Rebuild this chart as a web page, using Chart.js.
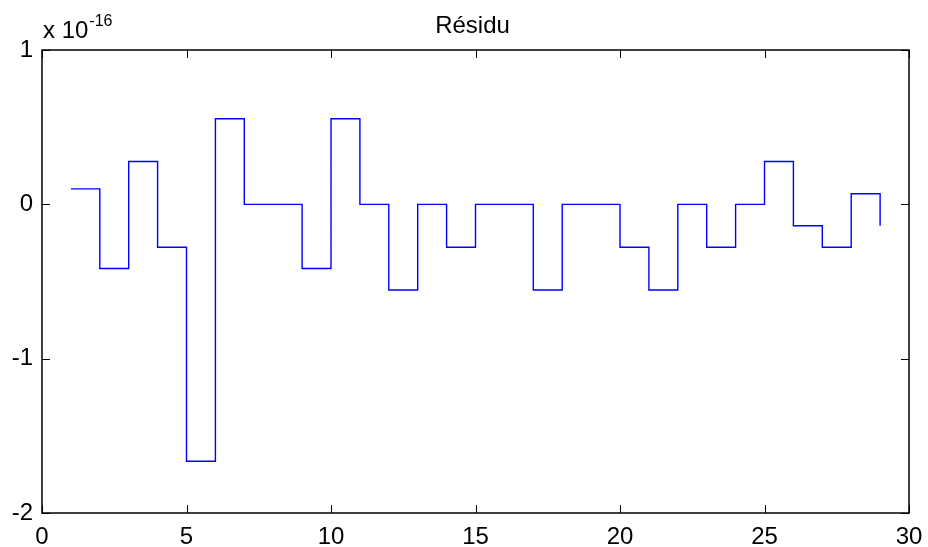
<!DOCTYPE html>
<html>
<head>
<meta charset="utf-8">
<title>Résidu</title>
<script src="https://cdn.jsdelivr.net/npm/chart.js@4"></script>
<style>
    body { margin: 0; background: #fff; }
    #wrap { width: 928px; height: 547px; position: relative; }
</style>
</head>
<body>
<div id="wrap"><canvas id="residuChart"></canvas></div>
<script>
// stairs data, values in units of 1e-16
const xs = [1, 2, 3, 4, 5, 6, 7, 8, 9, 10, 11, 12, 13, 14, 15, 16, 17, 18, 19, 20, 21, 22, 23, 24, 25, 26, 27, 28, 29];
const residu = [0.1, -0.416, 0.278, -0.278, -1.665, 0.555, 0, 0, -0.416, 0.555, 0, -0.555, 0, -0.278, 0, 0, -0.555, 0, 0, -0.278, -0.555, 0, -0.278, 0, 0.278, -0.139, -0.278, 0.069, -0.139];
const xTicks = [0, 5, 10, 15, 20, 25, 30];
const yTicks = [-2, -1, 0, 1];

const FONT = '"Liberation Sans", Arial, sans-serif';

// box around the axes, inward ticks, title and exponent label (matlab style)
const matlabAxes = {
    id: 'matlabAxes',
    afterDraw(chart) {
        const ctx = chart.ctx;
        const a = chart.chartArea;
        const xs_ = chart.scales.x;
        const ys_ = chart.scales.y;
        const tl = 8;
        ctx.save();
        ctx.strokeStyle = '#000';
        ctx.lineWidth = 1.5;
        ctx.strokeRect(a.left, a.top, a.right - a.left, a.bottom - a.top);
        ctx.lineWidth = 1;
        ctx.beginPath();
        xTicks.forEach(v => {
            const px = Math.round(xs_.getPixelForValue(v)) + 0.5;
            ctx.moveTo(px, a.bottom); ctx.lineTo(px, a.bottom - tl);
            ctx.moveTo(px, a.top); ctx.lineTo(px, a.top + tl);
        });
        yTicks.forEach(v => {
            const py = Math.round(ys_.getPixelForValue(v)) + 0.5;
            ctx.moveTo(a.left, py); ctx.lineTo(a.left + tl, py);
            ctx.moveTo(a.right, py); ctx.lineTo(a.right - tl, py);
        });
        ctx.stroke();

        ctx.fillStyle = '#000';
        ctx.textBaseline = 'alphabetic';
        ctx.textAlign = 'center';
        ctx.font = '24px ' + FONT;
        ctx.fillText('Résidu', (a.left + a.right) / 2 - 3, 33);

        ctx.textAlign = 'left';
        ctx.font = '24px ' + FONT;
        ctx.fillText('x 10', a.left + 1, 38);
        const w = ctx.measureText('x 10').width;
        ctx.font = '16px ' + FONT;
        ctx.fillText('-16', a.left + 1 + w + 1, 26);
        ctx.restore();
    }
};

const ctx = document.getElementById('residuChart').getContext('2d');
const residuChart = new Chart(ctx, {
    type: 'line',
    data: {
        datasets: [{
            label: 'Résidu',
            data: xs.map((x, i) => ({ x: x, y: residu[i] })),
            stepped: 'before',
            borderColor: '#0000ff',
            borderWidth: 1.4,
            pointRadius: 0,
            fill: false
        }]
    },
    options: {
        responsive: true,
        maintainAspectRatio: false,
        animation: false,
        layout: { padding: { left: 0, right: 19, top: 50, bottom: 0 } },
        plugins: {
            legend: { display: false },
            tooltip: { enabled: false },
            title: { display: false }
        },
        scales: {
            x: {
                type: 'linear',
                min: 0,
                max: 30,
                afterBuildTicks: scale => { scale.ticks = xTicks.map(v => ({ value: v })); },
                afterFit: scale => {
                    scale.height = 34;
                    scale.paddingLeft = 0;
                    scale.paddingRight = 0;
                },
                grid: { display: false, drawTicks: false },
                border: { display: false },
                ticks: { color: '#000', padding: 10, maxRotation: 0, font: { family: FONT, size: 24 } }
            },
            y: {
                type: 'linear',
                min: -2,
                max: 1,
                afterBuildTicks: scale => { scale.ticks = yTicks.map(v => ({ value: v })); },
                afterFit: scale => {
                    scale.width = 42;
                    scale.paddingTop = 0;
                    scale.paddingBottom = 0;
                },
                grid: { display: false, drawTicks: false },
                border: { display: false },
                ticks: { color: '#000', padding: 9, font: { family: FONT, size: 24 } }
            }
        }
    },
    plugins: [matlabAxes]
});
</script>
</body>
</html>
